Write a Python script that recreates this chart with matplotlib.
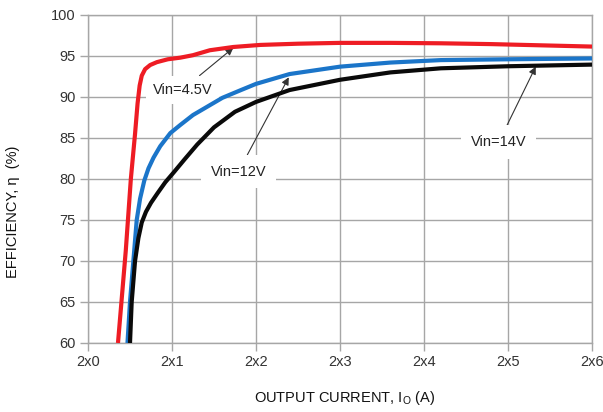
import matplotlib
matplotlib.use("Agg")
import matplotlib.pyplot as plt

# Tick labels along the output-current axis (evenly spaced positions 0..6)
x_tick_labels = ["2x0", "2x1", "2x2", "2x3", "2x4", "2x5", "2x6"]
y_ticks = [60, 65, 70, 75, 80, 85, 90, 95, 100]

# Efficiency curves, x in tick-position units
vin45_x = [0.357, 0.45, 0.51, 0.56, 0.59, 0.615, 0.64, 0.68, 0.74, 0.82, 0.95, 1.10, 1.25,
           1.45, 1.73, 2.05, 2.5, 3.0, 3.6, 4.2, 4.8, 5.4, 6.0]
vin45_y = [60, 71.3, 80, 85.5, 89.2, 91.4, 92.6, 93.4, 93.9, 94.25, 94.6, 94.8, 95.1,
           95.7, 96.1, 96.35, 96.5, 96.6, 96.6, 96.55, 96.45, 96.3, 96.15]

vin12_x = [0.47, 0.50, 0.54, 0.58, 0.62, 0.67, 0.72, 0.78, 0.86, 0.98, 1.10, 1.25, 1.45,
           1.60, 1.81, 2.0, 2.4, 3.0, 3.6, 4.2, 5.0, 6.0]
vin12_y = [60, 65, 70, 75, 77.6, 79.8, 81.3, 82.6, 84.0, 85.6, 86.6, 87.8, 89.0,
           89.9, 90.8, 91.6, 92.8, 93.7, 94.2, 94.5, 94.6, 94.7]

vin14_x = [0.50, 0.52, 0.56, 0.60, 0.64, 0.69, 0.75, 0.83, 0.92, 1.02, 1.15, 1.30, 1.50,
           1.75, 2.0, 2.4, 3.0, 3.6, 4.2, 5.0, 6.0]
vin14_y = [60, 65, 70, 72.8, 74.7, 76.0, 77.1, 78.3, 79.6, 80.8, 82.4, 84.2, 86.3,
           88.2, 89.4, 90.85, 92.1, 93.0, 93.5, 93.75, 93.95]

plt.rcParams["font.family"] = ["Liberation Sans", "DejaVu Sans"]

grid_c = "#a6a6a6"
fig = plt.figure(figsize=(6.03, 4.12), dpi=100)
ax = fig.add_axes([88 / 603, 1 - 343 / 412, 504 / 603, 328 / 412])

ax.plot(vin45_x, vin45_y, color="#ee1c24", lw=3.0, solid_capstyle="butt", zorder=3)
ax.plot(vin12_x, vin12_y, color="#1b75c9", lw=3.0, solid_capstyle="butt", zorder=3)
ax.plot(vin14_x, vin14_y, color="#0a0a0a", lw=3.0, solid_capstyle="butt", zorder=3)

ax.set_xlim(0, 6)
ax.set_ylim(60, 100)
ax.set_xticks(range(len(x_tick_labels)))
ax.set_xticklabels(x_tick_labels)
ax.set_yticks(y_ticks)
ax.grid(True, color=grid_c, lw=1.0, zorder=0)
ax.set_axisbelow(True)
for s in ax.spines.values():
    s.set_color(grid_c)
    s.set_linewidth(1.0)
ax.tick_params(axis="both", colors=grid_c, length=6, width=1.0, labelsize=10.5,
               labelcolor="#333333", pad=3)

# Labels sit above the grid but below the curves
arrow = dict(arrowstyle="-|>", color="#333333", lw=0.8, mutation_scale=11,
             shrinkA=0, shrinkB=0)
ax.annotate("Vin=4.5V", xy=(1.73, 96.0), xytext=(1.125, 90.9),
            ha="center", va="center", fontsize=10.5, color="#222222",
            bbox=dict(facecolor="white", edgecolor="none", pad=5),
            arrowprops=arrow, zorder=2.5)
ax.annotate("Vin=12V", xy=(2.39, 92.4), xytext=(1.79, 80.9),
            ha="center", va="center", fontsize=10.5, color="#222222",
            bbox=dict(facecolor="white", edgecolor="none", pad=7),
            arrowprops=arrow, zorder=2.5)
ax.annotate("Vin=14V", xy=(5.33, 93.7), xytext=(4.89, 84.5),
            ha="center", va="center", fontsize=10.5, color="#222222",
            bbox=dict(facecolor="white", edgecolor="none", pad=7),
            arrowprops=arrow, zorder=2.5)

fig.text(345 / 603, 1 - 398 / 412, "OUTPUT CURRENT, I$_{\\mathregular{O}}$ (A)",
         ha="center", va="center", fontsize=10.5, color="#111111")
fig.text(13 / 603, 1 - 212 / 412, "EFFICIENCY, \u03b7  (%)", rotation=90,
         ha="center", va="center", fontsize=10.5, color="#111111")

fig.savefig("out.png", dpi=100)
